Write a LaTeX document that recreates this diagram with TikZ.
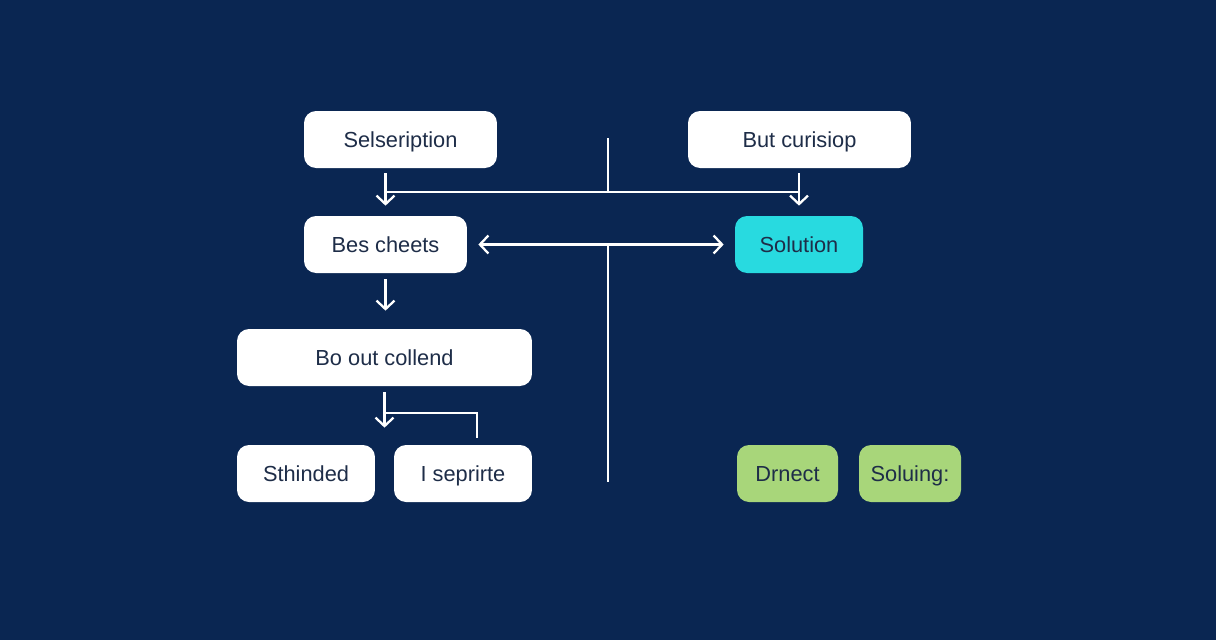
\documentclass[tikz,border=0pt]{standalone}
\usepackage{fontspec}
\setmainfont{Liberation Sans}
\usetikzlibrary{shapes,arrows.meta,positioning}
\definecolor{NightBlue}{RGB}{10, 38, 82}
\definecolor{InkBlue}{RGB}{30, 45, 72}
\definecolor{AccentCyan}{RGB}{40, 218, 224}
\definecolor{AccentGreen}{RGB}{168, 214, 122}

\begin{document}
\begin{tikzpicture}[x=0.02cm, y=-0.02cm,
    box/.style={fill=white, rounded corners=0.24cm, text=InkBlue,
      font=\fontsize{12.4}{14}\selectfont, minimum height=1.14cm, inner sep=0pt,
      text height=0.9em, text depth=0pt},
    wire/.style={white, line width=1.3pt},
    flow/.style={wire, -{Straight Barb[length=1.7mm, width=3.6mm]}}]
    \useasboundingbox[fill=NightBlue] (0,0) rectangle (1216,640);

    % top row
    \node[box, minimum width=3.86cm] (sel) at (400.5,139.5) {Selseription};
    \node[box, minimum width=4.46cm] (cur) at (799.5,139.5) {But curisiop};

    % second row
    \node[box, minimum width=3.26cm] (bes) at (385.5,244.5) {Bes cheets};
    \node[box, fill=AccentCyan, minimum width=2.56cm] (sol) at (799,244.5) {Solution};

    % left column
    \node[box, minimum width=5.9cm] (col) at (384.5,357.5) {Bo out collend};
    \node[box, minimum width=2.76cm] (sth) at (306,473.5) {Sthinded};
    \node[box, minimum width=2.76cm] (sep) at (463,473.5) {I seprirte};

    % green tags
    \node[box, fill=AccentGreen, minimum width=2.02cm] (dnc) at (787.5,473.5) {Drnect};
    \node[box, fill=AccentGreen, minimum width=2.04cm] (slg) at (910,473.5) {Soluing:};

    % centre rail
    \coordinate (hub top) at (608,138);
    \coordinate (rail) at (608,192);
    \coordinate (hub bot) at (608,482);
    \coordinate (knee) at (477,413);
    \draw[wire] (hub top) -- (rail);
    \draw[wire] (rail -| bes.north) -- (rail -| sol.north);
    \draw[wire] (hub top |- bes.east) -- (hub bot);

    % arrows
    \draw[flow, shorten <=0.1cm, shorten >=0.2cm] (sel.south -| bes.north) -- (bes.north);
    \draw[flow, shorten <=0.1cm, shorten >=0.2cm] (cur.south -| sol.north) -- (sol.north);
    \draw[wire, {Straight Barb[length=1.7mm, width=3.6mm]}-{Straight Barb[length=1.7mm, width=3.6mm]},
      shorten <=0.22cm, shorten >=0.22cm] (bes.east) -- (sol.west);
    \draw[flow, shorten <=0.12cm, shorten >=0.36cm] (bes.south) -- (bes.south |- col.north);
    \draw[flow, shorten <=0.12cm, shorten >=0.34cm] (col.south) -- (col.south |- sth.north);
    \draw[wire, shorten >=0.14cm] (knee -| col.south) -- (knee) -- (knee |- sep.north);
  \end{tikzpicture}
\end{document}
